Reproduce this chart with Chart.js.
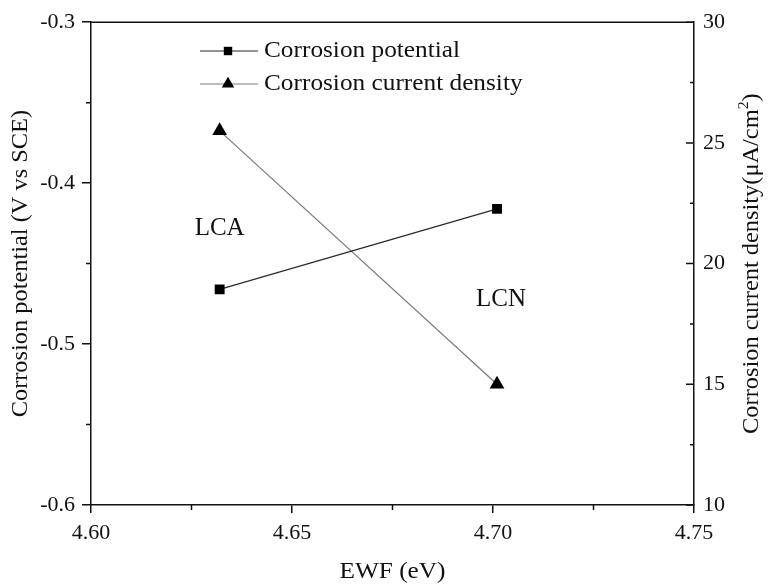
<!DOCTYPE html>
<html>
<head>
<meta charset="utf-8">
<title>Corrosion vs EWF</title>
<script src="https://cdn.jsdelivr.net/npm/chart.js@4/dist/chart.umd.min.js"></script>
<style>
    html, body { margin: 0; padding: 0; background: #fff; }
    #chart { display: block; }
</style>
</head>
<body>
<canvas id="chart" width="768" height="587"></canvas>
<script>
// electron work function of the two coatings
const ewf = [4.632, 4.701];
const potential = [-0.466, -0.416];     // V vs SCE
const currentDensity = [25.5, 15.0];    // uA/cm2

const sampleNames = ['LCA', 'LCN'];
const sampleLabelX = [4.632, 4.702];
const sampleLabelY = [-0.428, -0.472];

const xTicks = [4.60, 4.65, 4.70, 4.75];
const xMinor = [4.625, 4.675, 4.725];
const yTicks = [-0.6, -0.5, -0.4, -0.3];
const yMinor = [-0.55, -0.45, -0.35];
const y1Ticks = [10, 15, 20, 25, 30];
const y1Minor = [12.5, 17.5, 22.5, 27.5];

const serif = '"Liberation Serif", "Times New Roman", serif';
Chart.defaults.font.family = serif;
Chart.defaults.color = '#111';

// text with a slightly wider set, optionally rotated
function wideText(ctx, text, x, y, size, sx, rot, align) {
    ctx.save();
    ctx.translate(x, y);
    if (rot) ctx.rotate(rot);
    ctx.scale(sx, 1);
    ctx.font = size + 'px ' + serif;
    ctx.textAlign = align || 'center';
    ctx.textBaseline = 'middle';
    ctx.fillText(text, 0, 0);
    ctx.restore();
}

// frame, minor ticks, right-hand ticks pointing inward, titles and the legend
const decorations = {
    id: 'decorations',
    afterDraw(chart) {
        const ctx = chart.ctx;
        const { left, right, top, bottom } = chart.chartArea;
        const x = chart.scales.x, y = chart.scales.y, y1 = chart.scales.y1;
        const midX = (left + right) / 2, midY = (top + bottom) / 2;
        ctx.save();
        ctx.strokeStyle = '#111';
        ctx.lineWidth = 1.5;
        ctx.beginPath();
        ctx.moveTo(left, top);
        ctx.lineTo(right, top);
        ctx.stroke();

        ctx.beginPath();
        xMinor.forEach(v => {
            const px = x.getPixelForValue(v);
            ctx.moveTo(px, bottom); ctx.lineTo(px, bottom + 5);
        });
        yMinor.forEach(v => {
            const py = y.getPixelForValue(v);
            ctx.moveTo(left, py); ctx.lineTo(left - 5, py);
        });
        y1Ticks.forEach(v => {
            const py = y1.getPixelForValue(v);
            ctx.moveTo(right, py); ctx.lineTo(right - 8, py);
        });
        y1Minor.forEach(v => {
            const py = y1.getPixelForValue(v);
            ctx.moveTo(right, py); ctx.lineTo(right - 4, py);
        });
        ctx.stroke();

        ctx.fillStyle = '#111';

        // sample names
        sampleNames.forEach((name, i) => {
            wideText(ctx, name, x.getPixelForValue(sampleLabelX[i]), y.getPixelForValue(sampleLabelY[i]), 25, 1.0);
        });

        // axis titles
        wideText(ctx, 'EWF (eV)', midX, 572, 23, 1.1);
        wideText(ctx, 'Corrosion potential (V vs SCE)', 21, midY, 23, 1.06, -Math.PI / 2);

        // right title, read bottom to top, with a raised 2
        ctx.save();
        ctx.translate(752, midY);
        ctx.rotate(-Math.PI / 2);
        ctx.scale(1.06, 1);
        ctx.textBaseline = 'middle';
        ctx.textAlign = 'left';
        const main = 'Corrosion current density(\u03bcA/cm';
        ctx.font = '23px ' + serif;
        const wMain = ctx.measureText(main).width;
        const wEnd = ctx.measureText(')').width;
        ctx.font = '15px ' + serif;
        const wSup = ctx.measureText('2').width;
        let cx = -(wMain + wSup + wEnd) / 2;
        ctx.font = '23px ' + serif;
        ctx.fillText(main, cx, 0);
        cx += wMain;
        ctx.font = '15px ' + serif;
        ctx.fillText('2', cx, -8);
        cx += wSup;
        ctx.font = '23px ' + serif;
        ctx.fillText(')', cx, 0);
        ctx.restore();

        // legend: line - marker - line, then the label
        const rows = [51, 84];
        chart.data.datasets.forEach((ds, i) => {
            const ly = rows[i];
            ctx.strokeStyle = ds.borderColor;
            ctx.lineWidth = 1.2;
            ctx.beginPath();
            ctx.moveTo(200, ly); ctx.lineTo(258, ly);
            ctx.stroke();
            ctx.fillStyle = '#000';
            Chart.helpers.drawPoint(ctx, {
                pointStyle: ds.pointStyle,
                radius: ds.pointRadius * 0.85,
                borderWidth: 0,
                rotation: 0
            }, 228, ly);
            ctx.fillStyle = '#111';
            wideText(ctx, ds.label, 264, ly, 23, 1.1, 0, 'left');
        });
        ctx.restore();
    }
};

new Chart(document.getElementById('chart'), {
    type: 'line',
    data: {
        datasets: [
            {
                label: 'Corrosion potential',
                data: ewf.map((v, i) => ({ x: v, y: potential[i] })),
                yAxisID: 'y',
                borderColor: '#2a2a2a',
                borderWidth: 1.2,
                pointStyle: 'rect',
                pointRadius: 7,
                pointBackgroundColor: '#000',
                pointBorderWidth: 0
            },
            {
                label: 'Corrosion current density',
                data: ewf.map((v, i) => ({ x: v, y: currentDensity[i] })),
                yAxisID: 'y1',
                borderColor: '#7a7a7a',
                borderWidth: 1.2,
                pointStyle: 'triangle',
                pointRadius: 8.5,
                pointBackgroundColor: '#000',
                pointBorderWidth: 0
            }
        ]
    },
    options: {
        responsive: false,
        animation: false,
        layout: { padding: { top: 20, left: 0, right: 0, bottom: 0 } },
        plugins: {
            legend: { display: false },
            tooltip: { enabled: false }
        },
        scales: {
            x: {
                type: 'linear',
                min: 4.60,
                max: 4.75,
                afterBuildTicks: s => { s.ticks = xTicks.map(v => ({ value: v })); },
                afterFit: s => { s.height = 82; },
                ticks: {
                    font: { size: 22 },
                    color: '#111',
                    padding: 7,
                    maxRotation: 0,
                    callback: v => Number(v).toFixed(2)
                },
                grid: { display: true, drawOnChartArea: false, drawTicks: true, tickLength: 8, color: '#111', lineWidth: 1.5 },
                border: { display: true, color: '#111', width: 1.5 }
            },
            y: {
                type: 'linear',
                position: 'left',
                min: -0.6,
                max: -0.3,
                afterBuildTicks: s => { s.ticks = yTicks.map(v => ({ value: v })); },
                afterFit: s => { s.width = 91; },
                ticks: {
                    font: { size: 22 },
                    color: '#111',
                    padding: 7,
                    callback: v => Number(v).toFixed(1)
                },
                grid: { display: true, drawOnChartArea: false, drawTicks: true, tickLength: 9, color: '#111', lineWidth: 1.5 },
                border: { display: true, color: '#111', width: 1.5 }
            },
            y1: {
                type: 'linear',
                position: 'right',
                min: 10,
                max: 30,
                afterBuildTicks: s => { s.ticks = y1Ticks.map(v => ({ value: v })); },
                afterFit: s => { s.width = 74; },
                ticks: {
                    font: { size: 22 },
                    color: '#111',
                    padding: 9,
                    callback: v => String(v)
                },
                grid: { display: false, drawTicks: false, tickLength: 0 },
                border: { display: true, color: '#111', width: 1.5 }
            }
        }
    },
    plugins: [decorations]
});
</script>
</body>
</html>
